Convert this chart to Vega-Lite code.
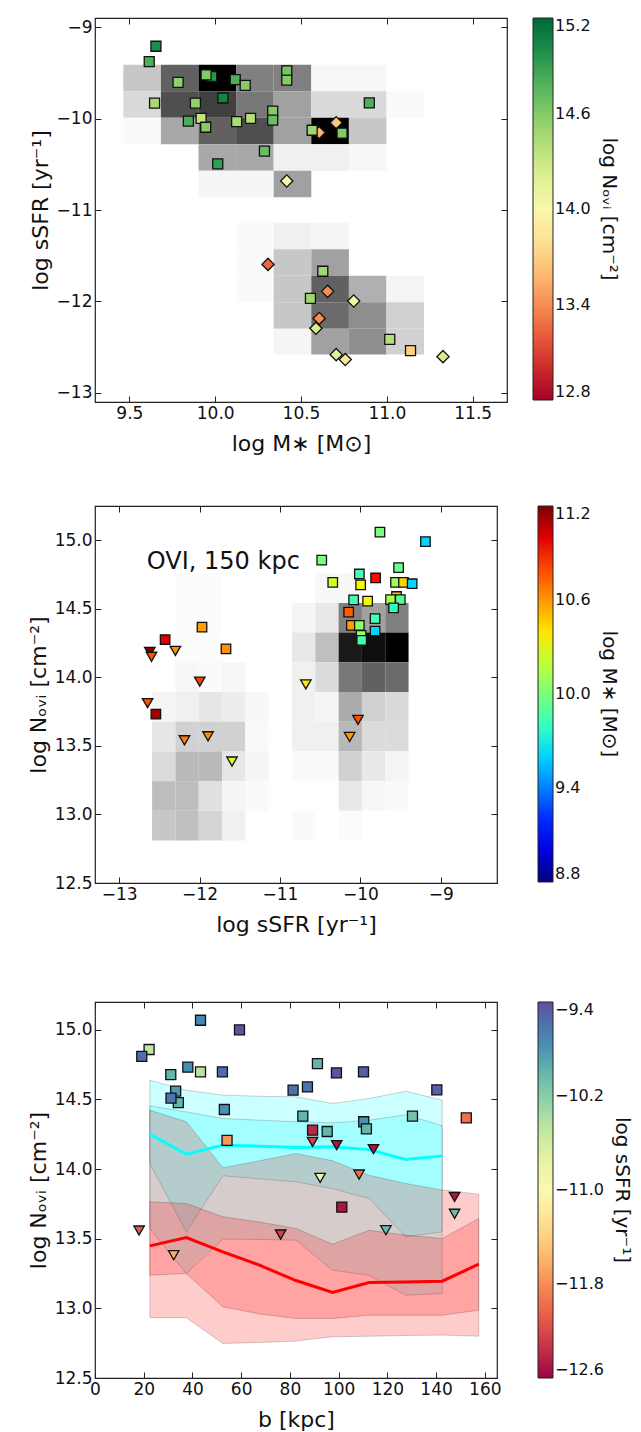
{
"$schema": "https://vega.github.io/schema/vega-lite/v6.json",
"background": "white",
"padding": {"left": 26, "top": 16, "right": 2, "bottom": 2},
"config": {
 "font": "DejaVu Sans",
 "view": {"stroke": "#222", "strokeWidth": 1.2},
 "axis": {"grid": false, "domain": false, "tickColor": "#222", "tickSize": -6, "tickWidth": 1, "labelFontSize": 17, "labelColor": "#111", "labelFont": "DejaVu Sans", "titleFont": "DejaVu Sans", "titleFontSize": 22, "titleFontWeight": "normal", "titleColor": "#111", "labelPadding": 9, "labelFlush": false},
 "axisX": {"titlePadding": 12},
 "axisY": {"titlePadding": 4},
 "legend": {"titleOrient": "right", "titleFontSize": 20, "titleFontWeight": "normal", "titleColor": "#111", "titleFont": "DejaVu Sans", "labelFont": "DejaVu Sans", "labelFontSize": 16, "labelColor": "#111", "gradientStrokeColor": "#222", "gradientStrokeWidth": 1, "titlePadding": 8, "labelOffset": 6}
},
"datasets": {
 "tophist": [
  {"x1":9.465,"x2":9.684,"y1":-9.41,"y2":-9.70,"d":0.22},
  {"x1":9.684,"x2":9.903,"y1":-9.41,"y2":-9.70,"d":0.62},
  {"x1":9.903,"x2":10.122,"y1":-9.41,"y2":-9.70,"d":1.0},
  {"x1":10.122,"x2":10.341,"y1":-9.41,"y2":-9.70,"d":0.5},
  {"x1":10.341,"x2":10.56,"y1":-9.41,"y2":-9.70,"d":0.5},
  {"x1":10.56,"x2":10.779,"y1":-9.41,"y2":-9.70,"d":0.03},
  {"x1":10.779,"x2":10.998,"y1":-9.41,"y2":-9.70,"d":0.03},
  {"x1":9.465,"x2":9.684,"y1":-9.70,"y2":-9.99,"d":0.15},
  {"x1":9.684,"x2":9.903,"y1":-9.70,"y2":-9.99,"d":0.69},
  {"x1":9.903,"x2":10.122,"y1":-9.70,"y2":-9.99,"d":0.75},
  {"x1":10.122,"x2":10.341,"y1":-9.70,"y2":-9.99,"d":0.53},
  {"x1":10.341,"x2":10.56,"y1":-9.70,"y2":-9.99,"d":0.37},
  {"x1":10.56,"x2":10.779,"y1":-9.70,"y2":-9.99,"d":0.15},
  {"x1":10.779,"x2":10.998,"y1":-9.70,"y2":-9.99,"d":0.15},
  {"x1":10.998,"x2":11.217,"y1":-9.70,"y2":-9.99,"d":0.02},
  {"x1":9.465,"x2":9.684,"y1":-9.99,"y2":-10.28,"d":0.02},
  {"x1":9.684,"x2":9.903,"y1":-9.99,"y2":-10.28,"d":0.34},
  {"x1":9.903,"x2":10.122,"y1":-9.99,"y2":-10.28,"d":0.62},
  {"x1":10.122,"x2":10.341,"y1":-9.99,"y2":-10.28,"d":0.69},
  {"x1":10.341,"x2":10.56,"y1":-9.99,"y2":-10.28,"d":0.37},
  {"x1":10.56,"x2":10.779,"y1":-9.99,"y2":-10.28,"d":1.0},
  {"x1":10.779,"x2":10.998,"y1":-9.99,"y2":-10.28,"d":0.22},
  {"x1":9.903,"x2":10.122,"y1":-10.28,"y2":-10.57,"d":0.34},
  {"x1":10.122,"x2":10.341,"y1":-10.28,"y2":-10.57,"d":0.34},
  {"x1":10.341,"x2":10.56,"y1":-10.28,"y2":-10.57,"d":0.06},
  {"x1":10.56,"x2":10.779,"y1":-10.28,"y2":-10.57,"d":0.06},
  {"x1":10.779,"x2":10.998,"y1":-10.28,"y2":-10.57,"d":0.03},
  {"x1":9.903,"x2":10.122,"y1":-10.57,"y2":-10.86,"d":0.04},
  {"x1":10.122,"x2":10.341,"y1":-10.57,"y2":-10.86,"d":0.04},
  {"x1":10.341,"x2":10.56,"y1":-10.57,"y2":-10.86,"d":0.37},
  {"x1":10.122,"x2":10.341,"y1":-11.14,"y2":-11.43,"d":0.02},
  {"x1":10.341,"x2":10.56,"y1":-11.14,"y2":-11.43,"d":0.06},
  {"x1":10.56,"x2":10.779,"y1":-11.14,"y2":-11.43,"d":0.04},
  {"x1":10.122,"x2":10.341,"y1":-11.43,"y2":-11.72,"d":0.02},
  {"x1":10.341,"x2":10.56,"y1":-11.43,"y2":-11.72,"d":0.22},
  {"x1":10.56,"x2":10.779,"y1":-11.43,"y2":-11.72,"d":0.37},
  {"x1":10.122,"x2":10.341,"y1":-11.72,"y2":-12.01,"d":0.02},
  {"x1":10.341,"x2":10.56,"y1":-11.72,"y2":-12.01,"d":0.22},
  {"x1":10.56,"x2":10.779,"y1":-11.72,"y2":-12.01,"d":0.62},
  {"x1":10.779,"x2":10.998,"y1":-11.72,"y2":-12.01,"d":0.31},
  {"x1":10.998,"x2":11.217,"y1":-11.72,"y2":-12.01,"d":0.04},
  {"x1":10.341,"x2":10.56,"y1":-12.01,"y2":-12.30,"d":0.22},
  {"x1":10.56,"x2":10.779,"y1":-12.01,"y2":-12.30,"d":0.58},
  {"x1":10.779,"x2":10.998,"y1":-12.01,"y2":-12.30,"d":0.44},
  {"x1":10.998,"x2":11.217,"y1":-12.01,"y2":-12.30,"d":0.18},
  {"x1":10.341,"x2":10.56,"y1":-12.30,"y2":-12.58,"d":0.04},
  {"x1":10.56,"x2":10.779,"y1":-12.30,"y2":-12.58,"d":0.37},
  {"x1":10.779,"x2":10.998,"y1":-12.30,"y2":-12.58,"d":0.44},
  {"x1":10.998,"x2":11.217,"y1":-12.30,"y2":-12.58,"d":0.18}
 ],
 "toppts": [
  {"m":9.655,"s":-9.209,"n":15.0,"k":"sq"},
  {"m":9.616,"s":-9.378,"n":14.8,"k":"sq"},
  {"m":9.784,"s":-9.605,"n":14.55,"k":"sq"},
  {"m":9.98,"s":-9.54,"n":14.95,"k":"sq"},
  {"m":9.947,"s":-9.522,"n":14.6,"k":"sq"},
  {"m":10.117,"s":-9.573,"n":14.8,"k":"sq"},
  {"m":10.175,"s":-9.638,"n":14.6,"k":"sq"},
  {"m":10.417,"s":-9.479,"n":14.65,"k":"sq"},
  {"m":10.417,"s":-9.58,"n":14.6,"k":"sq"},
  {"m":9.647,"s":-9.832,"n":14.45,"k":"sq"},
  {"m":9.885,"s":-9.832,"n":14.55,"k":"sq"},
  {"m":10.045,"s":-9.775,"n":15.05,"k":"sq"},
  {"m":10.898,"s":-9.829,"n":14.8,"k":"sq"},
  {"m":9.844,"s":-10.027,"n":14.8,"k":"sq"},
  {"m":9.918,"s":-9.998,"n":14.35,"k":"sq"},
  {"m":9.945,"s":-10.095,"n":14.6,"k":"sq"},
  {"m":10.125,"s":-10.034,"n":14.45,"k":"sq"},
  {"m":10.206,"s":-9.998,"n":14.4,"k":"sq"},
  {"m":10.335,"s":-9.919,"n":14.6,"k":"sq"},
  {"m":10.335,"s":-10.016,"n":14.7,"k":"sq"},
  {"m":10.606,"s":-10.153,"n":13.55,"k":"di"},
  {"m":10.565,"s":-10.128,"n":14.5,"k":"sq"},
  {"m":10.705,"s":-10.045,"n":13.65,"k":"di"},
  {"m":10.739,"s":-10.16,"n":14.6,"k":"sq"},
  {"m":10.287,"s":-10.355,"n":14.7,"k":"sq"},
  {"m":10.015,"s":-10.495,"n":14.9,"k":"sq"},
  {"m":10.417,"s":-10.683,"n":14.0,"k":"di"},
  {"m":10.308,"s":-11.595,"n":13.25,"k":"di"},
  {"m":10.627,"s":-11.67,"n":14.5,"k":"sq"},
  {"m":10.655,"s":-11.89,"n":13.4,"k":"di"},
  {"m":10.555,"s":-11.966,"n":14.5,"k":"sq"},
  {"m":10.807,"s":-11.995,"n":14.02,"k":"di"},
  {"m":10.606,"s":-12.186,"n":13.4,"k":"di"},
  {"m":10.587,"s":-12.294,"n":14.25,"k":"di"},
  {"m":11.017,"s":-12.416,"n":14.4,"k":"sq"},
  {"m":11.138,"s":-12.539,"n":13.7,"k":"sq"},
  {"m":10.705,"s":-12.582,"n":14.2,"k":"di"},
  {"m":10.758,"s":-12.636,"n":13.85,"k":"di"},
  {"m":11.327,"s":-12.604,"n":14.25,"k":"di"}
 ],
 "midhist": [
  {"x1":-12.30,"x2":-12.01,"y1":14.543,"y2":14.76,"d":0.015},
  {"x1":-12.01,"x2":-11.72,"y1":14.543,"y2":14.76,"d":0.01},
  {"x1":-10.56,"x2":-10.27,"y1":14.543,"y2":14.76,"d":0.03},
  {"x1":-10.27,"x2":-9.98,"y1":14.543,"y2":14.76,"d":0.03},
  {"x1":-12.30,"x2":-12.01,"y1":14.327,"y2":14.543,"d":0.015},
  {"x1":-12.01,"x2":-11.72,"y1":14.327,"y2":14.543,"d":0.01},
  {"x1":-10.85,"x2":-10.56,"y1":14.327,"y2":14.543,"d":0.04},
  {"x1":-10.56,"x2":-10.27,"y1":14.327,"y2":14.543,"d":0.09},
  {"x1":-10.27,"x2":-9.98,"y1":14.327,"y2":14.543,"d":0.5},
  {"x1":-9.98,"x2":-9.69,"y1":14.327,"y2":14.543,"d":0.37},
  {"x1":-9.69,"x2":-9.40,"y1":14.327,"y2":14.543,"d":0.5},
  {"x1":-12.30,"x2":-12.01,"y1":14.11,"y2":14.327,"d":0.015},
  {"x1":-12.01,"x2":-11.72,"y1":14.11,"y2":14.327,"d":0.01},
  {"x1":-10.85,"x2":-10.56,"y1":14.11,"y2":14.327,"d":0.09},
  {"x1":-10.56,"x2":-10.27,"y1":14.11,"y2":14.327,"d":0.25},
  {"x1":-10.27,"x2":-9.98,"y1":14.11,"y2":14.327,"d":0.9},
  {"x1":-9.98,"x2":-9.69,"y1":14.11,"y2":14.327,"d":0.94},
  {"x1":-9.69,"x2":-9.40,"y1":14.11,"y2":14.327,"d":1.0},
  {"x1":-12.30,"x2":-12.01,"y1":13.893,"y2":14.11,"d":0.03},
  {"x1":-12.01,"x2":-11.72,"y1":13.893,"y2":14.11,"d":0.02},
  {"x1":-11.72,"x2":-11.43,"y1":13.893,"y2":14.11,"d":0.03},
  {"x1":-10.85,"x2":-10.56,"y1":13.893,"y2":14.11,"d":0.06},
  {"x1":-10.56,"x2":-10.27,"y1":13.893,"y2":14.11,"d":0.14},
  {"x1":-10.27,"x2":-9.98,"y1":13.893,"y2":14.11,"d":0.53},
  {"x1":-9.98,"x2":-9.69,"y1":13.893,"y2":14.11,"d":0.62},
  {"x1":-9.69,"x2":-9.40,"y1":13.893,"y2":14.11,"d":0.58},
  {"x1":-12.59,"x2":-12.30,"y1":13.677,"y2":13.893,"d":0.04},
  {"x1":-12.30,"x2":-12.01,"y1":13.677,"y2":13.893,"d":0.06},
  {"x1":-12.01,"x2":-11.72,"y1":13.677,"y2":13.893,"d":0.1},
  {"x1":-11.72,"x2":-11.43,"y1":13.677,"y2":13.893,"d":0.07},
  {"x1":-11.43,"x2":-11.14,"y1":13.677,"y2":13.893,"d":0.03},
  {"x1":-10.85,"x2":-10.56,"y1":13.677,"y2":13.893,"d":0.06},
  {"x1":-10.56,"x2":-10.27,"y1":13.677,"y2":13.893,"d":0.04},
  {"x1":-10.27,"x2":-9.98,"y1":13.677,"y2":13.893,"d":0.33},
  {"x1":-9.98,"x2":-9.69,"y1":13.677,"y2":13.893,"d":0.18},
  {"x1":-9.69,"x2":-9.40,"y1":13.677,"y2":13.893,"d":0.15},
  {"x1":-12.59,"x2":-12.30,"y1":13.46,"y2":13.677,"d":0.1},
  {"x1":-12.30,"x2":-12.01,"y1":13.46,"y2":13.677,"d":0.18},
  {"x1":-12.01,"x2":-11.72,"y1":13.46,"y2":13.677,"d":0.18},
  {"x1":-11.72,"x2":-11.43,"y1":13.46,"y2":13.677,"d":0.18},
  {"x1":-11.43,"x2":-11.14,"y1":13.46,"y2":13.677,"d":0.02},
  {"x1":-10.85,"x2":-10.56,"y1":13.46,"y2":13.677,"d":0.06},
  {"x1":-10.56,"x2":-10.27,"y1":13.46,"y2":13.677,"d":0.06},
  {"x1":-10.27,"x2":-9.98,"y1":13.46,"y2":13.677,"d":0.28},
  {"x1":-9.98,"x2":-9.69,"y1":13.46,"y2":13.677,"d":0.14},
  {"x1":-9.69,"x2":-9.40,"y1":13.46,"y2":13.677,"d":0.14},
  {"x1":-12.59,"x2":-12.30,"y1":13.243,"y2":13.46,"d":0.14},
  {"x1":-12.30,"x2":-12.01,"y1":13.243,"y2":13.46,"d":0.27},
  {"x1":-12.01,"x2":-11.72,"y1":13.243,"y2":13.46,"d":0.27},
  {"x1":-11.72,"x2":-11.43,"y1":13.243,"y2":13.46,"d":0.1},
  {"x1":-11.43,"x2":-11.14,"y1":13.243,"y2":13.46,"d":0.04},
  {"x1":-10.85,"x2":-10.56,"y1":13.243,"y2":13.46,"d":0.02},
  {"x1":-10.56,"x2":-10.27,"y1":13.243,"y2":13.46,"d":0.02},
  {"x1":-10.27,"x2":-9.98,"y1":13.243,"y2":13.46,"d":0.18},
  {"x1":-9.98,"x2":-9.69,"y1":13.243,"y2":13.46,"d":0.09},
  {"x1":-9.69,"x2":-9.40,"y1":13.243,"y2":13.46,"d":0.04},
  {"x1":-12.59,"x2":-12.30,"y1":13.027,"y2":13.243,"d":0.26},
  {"x1":-12.30,"x2":-12.01,"y1":13.027,"y2":13.243,"d":0.26},
  {"x1":-12.01,"x2":-11.72,"y1":13.027,"y2":13.243,"d":0.12},
  {"x1":-11.72,"x2":-11.43,"y1":13.027,"y2":13.243,"d":0.04},
  {"x1":-11.43,"x2":-11.14,"y1":13.027,"y2":13.243,"d":0.02},
  {"x1":-10.27,"x2":-9.98,"y1":13.027,"y2":13.243,"d":0.09},
  {"x1":-9.98,"x2":-9.69,"y1":13.027,"y2":13.243,"d":0.03},
  {"x1":-9.69,"x2":-9.40,"y1":13.027,"y2":13.243,"d":0.02},
  {"x1":-12.59,"x2":-12.30,"y1":12.81,"y2":13.027,"d":0.22},
  {"x1":-12.30,"x2":-12.01,"y1":12.81,"y2":13.027,"d":0.25},
  {"x1":-12.01,"x2":-11.72,"y1":12.81,"y2":13.027,"d":0.17},
  {"x1":-11.72,"x2":-11.43,"y1":12.81,"y2":13.027,"d":0.06},
  {"x1":-10.85,"x2":-10.56,"y1":12.81,"y2":13.027,"d":0.02},
  {"x1":-10.27,"x2":-9.98,"y1":12.81,"y2":13.027,"d":0.015}
 ],
 "midpts": [
  {"s":-9.756,"n":15.06,"m":10.0,"k":"sq"},
  {"s":-9.19,"n":14.99,"m":9.6,"k":"sq"},
  {"s":-10.48,"n":14.855,"m":10.0,"k":"sq"},
  {"s":-9.524,"n":14.80,"m":9.95,"k":"sq"},
  {"s":-10.012,"n":14.754,"m":9.83,"k":"sq"},
  {"s":-9.81,"n":14.725,"m":10.95,"k":"sq"},
  {"s":-10.343,"n":14.693,"m":10.25,"k":"sq"},
  {"s":-9.996,"n":14.674,"m":10.35,"k":"sq"},
  {"s":-9.55,"n":14.59,"m":10.5,"k":"sq"},
  {"s":-9.562,"n":14.693,"m":10.1,"k":"sq"},
  {"s":-9.463,"n":14.693,"m":10.45,"k":"sq"},
  {"s":-9.355,"n":14.683,"m":9.6,"k":"sq"},
  {"s":-10.083,"n":14.565,"m":9.83,"k":"sq"},
  {"s":-9.909,"n":14.556,"m":10.35,"k":"sq"},
  {"s":-9.624,"n":14.567,"m":10.15,"k":"sq"},
  {"s":-9.503,"n":14.567,"m":9.9,"k":"sq"},
  {"s":-9.586,"n":14.507,"m":9.78,"k":"sq"},
  {"s":-10.145,"n":14.476,"m":10.75,"k":"sq"},
  {"s":-9.817,"n":14.428,"m":9.83,"k":"sq"},
  {"s":-10.111,"n":14.379,"m":10.58,"k":"sq"},
  {"s":-10.012,"n":14.379,"m":10.05,"k":"sq"},
  {"s":-9.99,"n":14.307,"m":10.1,"k":"sq"},
  {"s":-9.817,"n":14.338,"m":9.6,"k":"sq"},
  {"s":-9.983,"n":14.27,"m":9.85,"k":"sq"},
  {"s":-11.969,"n":14.367,"m":10.58,"k":"sq"},
  {"s":-12.428,"n":14.275,"m":11.0,"k":"sq"},
  {"s":-11.671,"n":14.208,"m":10.62,"k":"sq"},
  {"s":-12.618,"n":14.186,"m":11.17,"k":"tri"},
  {"s":-12.597,"n":14.15,"m":10.78,"k":"tri"},
  {"s":-12.30,"n":14.193,"m":10.62,"k":"tri"},
  {"s":-11.997,"n":13.969,"m":10.82,"k":"tri"},
  {"s":-10.678,"n":13.949,"m":10.4,"k":"tri"},
  {"s":-12.646,"n":13.812,"m":10.78,"k":"tri"},
  {"s":-12.543,"n":13.732,"m":11.13,"k":"sq"},
  {"s":-10.029,"n":13.69,"m":10.78,"k":"tri"},
  {"s":-12.187,"n":13.541,"m":10.66,"k":"tri"},
  {"s":-11.894,"n":13.57,"m":10.62,"k":"tri"},
  {"s":-10.133,"n":13.565,"m":10.6,"k":"tri"},
  {"s":-11.596,"n":13.386,"m":10.25,"k":"tri"}
 ],
 "label": [{"s":-12.655,"n":14.84,"t":"OVI, 150 kpc"}],
 "cband": [
  {"b":22.5,"g":"c1","lo":13.574,"hi":14.638},{"b":37.5,"g":"c1","lo":13.25,"hi":14.566},{"b":52.5,"g":"c1","lo":13.497,"hi":14.531},{"b":67.5,"g":"c1","lo":13.495,"hi":14.523},{"b":82.5,"g":"c1","lo":13.49,"hi":14.519},{"b":97.5,"g":"c1","lo":13.274,"hi":14.471},{"b":112.5,"g":"c1","lo":13.238,"hi":14.507},{"b":127.5,"g":"c1","lo":13.095,"hi":14.559},{"b":142.5,"g":"c1","lo":13.107,"hi":14.495},
  {"b":22.5,"g":"c2","lo":14.04,"hi":14.454},{"b":37.5,"g":"c2","lo":13.55,"hi":14.411},{"b":52.5,"g":"c2","lo":13.952,"hi":14.363},{"b":67.5,"g":"c2","lo":13.93,"hi":14.351},{"b":82.5,"g":"c2","lo":13.909,"hi":14.34},{"b":97.5,"g":"c2","lo":13.86,"hi":14.332},{"b":112.5,"g":"c2","lo":13.789,"hi":14.351},{"b":127.5,"g":"c2","lo":13.514,"hi":14.39},{"b":142.5,"g":"c2","lo":13.55,"hi":14.311}
 ],
 "rband": [
  {"b":22.5,"g":"r1","lo":12.933,"hi":14.423},{"b":37.5,"g":"r1","lo":12.933,"hi":14.34},{"b":52.5,"g":"r1","lo":12.748,"hi":14.01},{"b":67.5,"g":"r1","lo":12.755,"hi":14.06},{"b":82.5,"g":"r1","lo":12.765,"hi":14.112},{"b":97.5,"g":"r1","lo":12.796,"hi":14.06},{"b":112.5,"g":"r1","lo":12.80,"hi":13.956},{"b":127.5,"g":"r1","lo":12.805,"hi":13.897},{"b":142.5,"g":"r1","lo":12.808,"hi":13.85},{"b":157.5,"g":"r1","lo":12.80,"hi":13.82},
  {"b":22.5,"g":"r2","lo":13.238,"hi":13.765},{"b":37.5,"g":"r2","lo":13.25,"hi":13.753},{"b":52.5,"g":"r2","lo":13.011,"hi":13.658},{"b":67.5,"g":"r2","lo":12.96,"hi":13.62},{"b":82.5,"g":"r2","lo":12.927,"hi":13.574},{"b":97.5,"g":"r2","lo":12.927,"hi":13.46},{"b":112.5,"g":"r2","lo":12.951,"hi":13.561},{"b":127.5,"g":"r2","lo":12.951,"hi":13.526},{"b":142.5,"g":"r2","lo":12.951,"hi":13.502},{"b":157.5,"g":"r2","lo":12.987,"hi":13.645}
 ],
 "cmed": [
  {"b":22.5,"n":14.25},{"b":37.5,"n":14.107},{"b":52.5,"n":14.172},{"b":67.5,"n":14.165},{"b":82.5,"n":14.155},{"b":97.5,"n":14.16},{"b":112.5,"n":14.14},{"b":127.5,"n":14.069},{"b":142.5,"n":14.095}
 ],
 "rmed": [
  {"b":22.5,"n":13.449},{"b":37.5,"n":13.509},{"b":52.5,"n":13.406},{"b":67.5,"n":13.31},{"b":82.5,"n":13.2},{"b":97.5,"n":13.114},{"b":112.5,"n":13.186},{"b":127.5,"n":13.19},{"b":142.5,"n":13.195},{"b":157.5,"n":13.317}
 ],
 "botpts": [
  {"b":22.2,"n":14.859,"s":-10.5,"k":"sq"},
  {"b":19.2,"n":14.81,"s":-9.56,"k":"sq"},
  {"b":43.3,"n":15.069,"s":-9.72,"k":"sq"},
  {"b":59.3,"n":15.0,"s":-9.42,"k":"sq"},
  {"b":31.1,"n":14.679,"s":-10.0,"k":"sq"},
  {"b":38.1,"n":14.732,"s":-9.75,"k":"sq"},
  {"b":43.3,"n":14.698,"s":-10.45,"k":"sq"},
  {"b":52.3,"n":14.698,"s":-9.56,"k":"sq"},
  {"b":33.1,"n":14.56,"s":-9.82,"k":"sq"},
  {"b":34.2,"n":14.478,"s":-10.0,"k":"sq"},
  {"b":31.2,"n":14.51,"s":-9.6,"k":"sq"},
  {"b":53.1,"n":14.428,"s":-9.78,"k":"sq"},
  {"b":54.2,"n":14.207,"s":-11.75,"k":"sq"},
  {"b":81.3,"n":14.567,"s":-9.6,"k":"sq"},
  {"b":87.2,"n":14.59,"s":-9.6,"k":"sq"},
  {"b":91.3,"n":14.758,"s":-10.0,"k":"sq"},
  {"b":99.1,"n":14.691,"s":-9.42,"k":"sq"},
  {"b":110.2,"n":14.698,"s":-9.48,"k":"sq"},
  {"b":140.3,"n":14.569,"s":-9.5,"k":"sq"},
  {"b":85.3,"n":14.38,"s":-10.0,"k":"sq"},
  {"b":89.3,"n":14.28,"s":-12.4,"k":"sq"},
  {"b":95.3,"n":14.27,"s":-10.0,"k":"sq"},
  {"b":110.3,"n":14.34,"s":-9.78,"k":"sq"},
  {"b":111.4,"n":14.289,"s":-10.0,"k":"sq"},
  {"b":130.3,"n":14.38,"s":-10.1,"k":"sq"},
  {"b":152.4,"n":14.368,"s":-11.96,"k":"sq"},
  {"b":101.3,"n":13.727,"s":-12.5,"k":"sq"},
  {"b":89.3,"n":14.196,"s":-12.25,"k":"tri"},
  {"b":99.2,"n":14.172,"s":-12.5,"k":"tri"},
  {"b":114.3,"n":14.143,"s":-12.5,"k":"tri"},
  {"b":92.4,"n":13.937,"s":-10.85,"k":"tri"},
  {"b":108.4,"n":13.961,"s":-11.96,"k":"tri"},
  {"b":147.6,"n":13.801,"s":-12.5,"k":"tri"},
  {"b":147.6,"n":13.679,"s":-10.05,"k":"tri"},
  {"b":119.4,"n":13.561,"s":-10.05,"k":"tri"},
  {"b":18.1,"n":13.559,"s":-12.1,"k":"tri"},
  {"b":76.2,"n":13.53,"s":-12.25,"k":"tri"},
  {"b":32.3,"n":13.382,"s":-11.64,"k":"tri"}
 ]
},
"spacing": 49,
"resolve": {"scale": {"color": "independent", "fill": "independent", "shape": "independent", "size": "independent"}, "legend": {"color": "independent", "fill": "independent"}},
"vconcat": [
 {
  "width": 412, "height": 384,
  "layer": [
   {"data": {"name": "tophist"}, "mark": {"type": "rect"},
    "encoding": {
     "x": {"field": "x1", "type": "quantitative", "scale": {"domain": [9.3, 11.7], "nice": false, "zero": false}, "axis": {"orient": "bottom", "values": [9.5, 10, 10.5, 11, 11.5], "format": ".1f", "title": "log M∗ [M⊙]"}},
     "x2": {"field": "x2"},
     "y": {"field": "y1", "type": "quantitative", "scale": {"domain": [-13.1, -8.9], "nice": false, "zero": false}, "axis": {"orient": "left", "values": [-13, -12, -11, -10, -9], "format": "d", "title": "log sSFR [yr⁻¹]"}},
     "y2": {"field": "y2"},
     "color": {"field": "d", "type": "quantitative", "scale": {"domain": [0, 1], "range": ["#ffffff", "#000000"], "interpolate": "rgb"}, "legend": null}
    }},
   {"data": {"name": "toppts"}, "mark": {"type": "point", "filled": true, "stroke": "#111", "strokeWidth": 1.3, "opacity": 1},
    "encoding": {
     "x": {"field": "m", "type": "quantitative", "axis": {"orient": "top", "labels": false, "title": null, "values": [9.5, 10, 10.5, 11, 11.5]}},
     "y": {"field": "s", "type": "quantitative", "axis": {"orient": "right", "labels": false, "title": null, "values": [-13, -12, -11, -10, -9]}},
     "fill": {"field": "n", "type": "quantitative", "scale": {"scheme": "redyellowgreen", "domain": [12.8, 15.2]}, "legend": {"title": "log Nₒᵥᵢ [cm⁻²]", "values": [12.8, 13.4, 14.0, 14.6, 15.2], "format": ".1f", "gradientLength": 382, "gradientThickness": 20, "offset": 25, "encode": {"title": {"update": {"angle": {"value": -90}, "baseline": {"value": "top"}}}, "labels": {"update": {"baseline": {"value": "middle"}}}}}},
     "shape": {"field": "k", "type": "nominal", "scale": {"domain": ["sq", "di"], "range": ["square", "diamond"]}, "legend": null},
     "size": {"field": "k", "type": "nominal", "scale": {"domain": ["sq", "di"], "range": [100, 150]}, "legend": null}
    }}
  ],
  "resolve": {"axis": {"x": "independent", "y": "independent"}}
 },
 {
  "spacing": 64,
  "resolve": {"scale": {"color": "independent", "fill": "independent", "shape": "independent", "size": "independent"}, "legend": {"color": "independent", "fill": "independent"}},
  "vconcat": [
   {
    "width": 402, "height": 377,
    "layer": [
     {"data": {"name": "midhist"}, "mark": {"type": "rect"},
      "encoding": {
       "x": {"field": "x1", "type": "quantitative", "scale": {"domain": [-13.3, -8.3], "nice": false, "zero": false}, "axis": {"orient": "bottom", "values": [-13, -12, -11, -10, -9], "format": "d", "title": "log sSFR [yr⁻¹]"}},
       "x2": {"field": "x2"},
       "y": {"field": "y1", "type": "quantitative", "scale": {"domain": [12.5, 15.25], "nice": false, "zero": false}, "axis": {"orient": "left", "values": [12.5, 13, 13.5, 14, 14.5, 15], "format": ".1f", "title": "log Nₒᵥᵢ [cm⁻²]"}},
       "y2": {"field": "y2"},
       "color": {"field": "d", "type": "quantitative", "scale": {"domain": [0, 1], "range": ["#ffffff", "#000000"], "interpolate": "rgb"}, "legend": null}
      }},
     {"data": {"name": "label"}, "mark": {"type": "text", "align": "left", "baseline": "middle", "fontSize": 24, "font": "DejaVu Sans", "color": "#111"},
      "encoding": {
       "x": {"field": "s", "type": "quantitative", "axis": null},
       "y": {"field": "n", "type": "quantitative", "axis": null},
       "text": {"field": "t"}
      }},
     {"data": {"name": "midpts"}, "mark": {"type": "point", "filled": true, "stroke": "#111", "strokeWidth": 1.3, "opacity": 1},
      "encoding": {
       "x": {"field": "s", "type": "quantitative", "axis": {"orient": "top", "labels": false, "title": null, "values": [-13, -12, -11, -10, -9]}},
       "y": {"field": "n", "type": "quantitative", "axis": {"orient": "right", "labels": false, "title": null, "values": [12.5, 13, 13.5, 14, 14.5, 15]}},
       "fill": {"field": "m", "type": "quantitative", "scale": {"domain": [8.8, 9.064, 9.1, 9.616, 9.64, 9.7, 10.336, 10.36, 10.384, 10.936, 10.984, 11.2], "range": ["#000080", "#0000ff", "#0000ff", "#00dbff", "#00e5f7", "#14ffe2", "#eeff08", "#f7f500", "#ffec00", "#ff1300", "#e80000", "#800000"], "interpolate": "rgb"}, "legend": {"title": "log M∗ [M⊙]", "values": [8.8, 9.4, 10.0, 10.6, 11.2], "format": ".1f", "gradientLength": 376, "gradientThickness": 15, "offset": 40, "encode": {"title": {"update": {"angle": {"value": -90}, "baseline": {"value": "top"}}}, "labels": {"update": {"baseline": {"value": "middle"}}}}}},
       "shape": {"field": "k", "type": "nominal", "scale": {"domain": ["sq", "tri"], "range": ["square", "triangle-down"]}, "legend": null},
       "size": {"field": "k", "type": "nominal", "scale": {"domain": ["sq", "tri"], "range": [90, 110]}, "legend": null}
      }}
    ],
    "resolve": {"axis": {"x": "independent", "y": "independent"}}
   },
   {
    "width": 402, "height": 376,
    "layer": [
     {"data": {"name": "cband"}, "mark": {"type": "area", "fill": "#00ffff", "fillOpacity": 0.2, "stroke": "#000000", "strokeOpacity": 0.18, "strokeWidth": 1, "opacity": 1},
      "encoding": {
       "x": {"field": "b", "type": "quantitative", "scale": {"domain": [0, 165], "nice": false, "zero": false}, "axis": {"orient": "bottom", "values": [0, 20, 40, 60, 80, 100, 120, 140, 160], "format": "d", "title": "b [kpc]"}},
       "y": {"field": "lo", "type": "quantitative", "scale": {"domain": [12.5, 15.2], "nice": false, "zero": false}, "axis": {"orient": "left", "values": [12.5, 13, 13.5, 14, 14.5, 15], "format": ".1f", "title": "log Nₒᵥᵢ [cm⁻²]"}},
       "y2": {"field": "hi"},
       "detail": {"field": "g", "type": "nominal"}
      }},
     {"data": {"name": "rband"}, "mark": {"type": "area", "fill": "#ff0000", "fillOpacity": 0.2, "stroke": "#000000", "strokeOpacity": 0.18, "strokeWidth": 1, "opacity": 1},
      "encoding": {
       "x": {"field": "b", "type": "quantitative", "axis": null},
       "y": {"field": "lo", "type": "quantitative", "axis": null},
       "y2": {"field": "hi"},
       "detail": {"field": "g", "type": "nominal"}
      }},
     {"data": {"name": "cmed"}, "mark": {"type": "line", "color": "#00ffff", "strokeWidth": 3},
      "encoding": {
       "x": {"field": "b", "type": "quantitative", "axis": null},
       "y": {"field": "n", "type": "quantitative", "axis": null}
      }},
     {"data": {"name": "rmed"}, "mark": {"type": "line", "color": "#ff0000", "strokeWidth": 3},
      "encoding": {
       "x": {"field": "b", "type": "quantitative", "axis": null},
       "y": {"field": "n", "type": "quantitative", "axis": null}
      }},
     {"data": {"name": "botpts"}, "mark": {"type": "point", "filled": true, "stroke": "#111", "strokeWidth": 1.3, "opacity": 1},
      "encoding": {
       "x": {"field": "b", "type": "quantitative", "axis": {"orient": "top", "labels": false, "title": null, "values": [0, 20, 40, 60, 80, 100, 120, 140, 160]}},
       "y": {"field": "n", "type": "quantitative", "axis": {"orient": "right", "labels": false, "title": null, "values": [12.5, 13, 13.5, 14, 14.5, 15]}},
       "fill": {"field": "s", "type": "quantitative", "scale": {"scheme": "spectral", "domain": [-12.6, -9.4]}, "legend": {"title": "log sSFR [yr⁻¹]", "values": [-12.6, -11.8, -11.0, -10.2, -9.4], "format": ".1f", "gradientLength": 376, "gradientThickness": 15, "offset": 40, "encode": {"title": {"update": {"angle": {"value": -90}, "baseline": {"value": "top"}}}, "labels": {"update": {"baseline": {"value": "middle"}}}}}},
       "shape": {"field": "k", "type": "nominal", "scale": {"domain": ["sq", "tri"], "range": ["square", "triangle-down"]}, "legend": null},
       "size": {"field": "k", "type": "nominal", "scale": {"domain": ["sq", "tri"], "range": [100, 110]}, "legend": null}
      }}
    ],
    "resolve": {"axis": {"x": "independent", "y": "independent"}}
   }
  ]
 }
]
}
